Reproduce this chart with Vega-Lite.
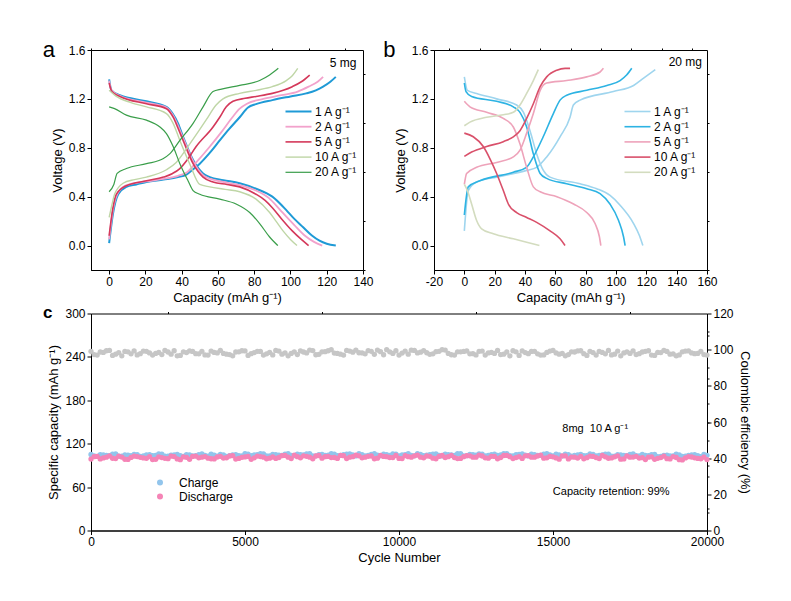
{
"$schema":"https://vega.github.io/schema/vega-lite/v6.json",
"padding":{"left":42,"top":38,"right":5,"bottom":5},
"datasets":{
"a":[
{"r":"1 A g⁻¹","k":"c","x":0,"y":0.02},{"r":"1 A g⁻¹","k":"c","x":2,"y":0.25},{"r":"1 A g⁻¹","k":"c","x":5,"y":0.42},{"r":"1 A g⁻¹","k":"c","x":9.5,"y":0.48},{"r":"1 A g⁻¹","k":"c","x":15,"y":0.5},{"r":"1 A g⁻¹","k":"c","x":20.6,"y":0.52},{"r":"1 A g⁻¹","k":"c","x":30,"y":0.54},{"r":"1 A g⁻¹","k":"c","x":38,"y":0.56},{"r":"1 A g⁻¹","k":"c","x":42.6,"y":0.58},{"r":"1 A g⁻¹","k":"c","x":46,"y":0.62},{"r":"1 A g⁻¹","k":"c","x":50,"y":0.67},{"r":"1 A g⁻¹","k":"c","x":55,"y":0.75},{"r":"1 A g⁻¹","k":"c","x":61,"y":0.86},{"r":"1 A g⁻¹","k":"c","x":66,"y":0.95},{"r":"1 A g⁻¹","k":"c","x":72,"y":1.05},{"r":"1 A g⁻¹","k":"c","x":76.6,"y":1.13},{"r":"1 A g⁻¹","k":"c","x":81,"y":1.157},{"r":"1 A g⁻¹","k":"c","x":90,"y":1.19},{"r":"1 A g⁻¹","k":"c","x":100,"y":1.22},{"r":"1 A g⁻¹","k":"c","x":108.7,"y":1.245},{"r":"1 A g⁻¹","k":"c","x":114,"y":1.27},{"r":"1 A g⁻¹","k":"c","x":118,"y":1.3},{"r":"1 A g⁻¹","k":"c","x":122,"y":1.34},{"r":"1 A g⁻¹","k":"c","x":125,"y":1.38},
{"r":"1 A g⁻¹","k":"d","x":0,"y":1.36},{"r":"1 A g⁻¹","k":"d","x":1.3,"y":1.27},{"r":"1 A g⁻¹","k":"d","x":5.9,"y":1.23},{"r":"1 A g⁻¹","k":"d","x":12,"y":1.205},{"r":"1 A g⁻¹","k":"d","x":20.6,"y":1.18},{"r":"1 A g⁻¹","k":"d","x":31.6,"y":1.135},{"r":"1 A g⁻¹","k":"d","x":35,"y":1.08},{"r":"1 A g⁻¹","k":"d","x":38,"y":1.0},{"r":"1 A g⁻¹","k":"d","x":40.8,"y":0.89},{"r":"1 A g⁻¹","k":"d","x":46.3,"y":0.7},{"r":"1 A g⁻¹","k":"d","x":51.8,"y":0.59},{"r":"1 A g⁻¹","k":"d","x":55.5,"y":0.56},{"r":"1 A g⁻¹","k":"d","x":63,"y":0.535},{"r":"1 A g⁻¹","k":"d","x":72,"y":0.51},{"r":"1 A g⁻¹","k":"d","x":81,"y":0.465},{"r":"1 A g⁻¹","k":"d","x":90,"y":0.4},{"r":"1 A g⁻¹","k":"d","x":97.7,"y":0.29},{"r":"1 A g⁻¹","k":"d","x":102,"y":0.22},{"r":"1 A g⁻¹","k":"d","x":107,"y":0.15},{"r":"1 A g⁻¹","k":"d","x":112,"y":0.08},{"r":"1 A g⁻¹","k":"d","x":116,"y":0.04},{"r":"1 A g⁻¹","k":"d","x":120,"y":0.015},{"r":"1 A g⁻¹","k":"d","x":125,"y":0},
{"r":"2 A g⁻¹","k":"c","x":0,"y":0.05},{"r":"2 A g⁻¹","k":"c","x":2,"y":0.28},{"r":"2 A g⁻¹","k":"c","x":4.5,"y":0.42},{"r":"2 A g⁻¹","k":"c","x":9,"y":0.49},{"r":"2 A g⁻¹","k":"c","x":20.6,"y":0.525},{"r":"2 A g⁻¹","k":"c","x":30,"y":0.545},{"r":"2 A g⁻¹","k":"c","x":38,"y":0.57},{"r":"2 A g⁻¹","k":"c","x":43,"y":0.6},{"r":"2 A g⁻¹","k":"c","x":48,"y":0.68},{"r":"2 A g⁻¹","k":"c","x":55,"y":0.8},{"r":"2 A g⁻¹","k":"c","x":62,"y":0.93},{"r":"2 A g⁻¹","k":"c","x":68,"y":1.05},{"r":"2 A g⁻¹","k":"c","x":72,"y":1.12},{"r":"2 A g⁻¹","k":"c","x":76,"y":1.16},{"r":"2 A g⁻¹","k":"c","x":85,"y":1.2},{"r":"2 A g⁻¹","k":"c","x":95,"y":1.23},{"r":"2 A g⁻¹","k":"c","x":104,"y":1.26},{"r":"2 A g⁻¹","k":"c","x":110,"y":1.3},{"r":"2 A g⁻¹","k":"c","x":115,"y":1.34},{"r":"2 A g⁻¹","k":"c","x":118,"y":1.38},
{"r":"2 A g⁻¹","k":"d","x":0,"y":1.35},{"r":"2 A g⁻¹","k":"d","x":1.3,"y":1.27},{"r":"2 A g⁻¹","k":"d","x":5.9,"y":1.225},{"r":"2 A g⁻¹","k":"d","x":20.6,"y":1.17},{"r":"2 A g⁻¹","k":"d","x":31.6,"y":1.13},{"r":"2 A g⁻¹","k":"d","x":35,"y":1.07},{"r":"2 A g⁻¹","k":"d","x":40.8,"y":0.88},{"r":"2 A g⁻¹","k":"d","x":46.3,"y":0.69},{"r":"2 A g⁻¹","k":"d","x":51.8,"y":0.575},{"r":"2 A g⁻¹","k":"d","x":56,"y":0.545},{"r":"2 A g⁻¹","k":"d","x":65,"y":0.515},{"r":"2 A g⁻¹","k":"d","x":72,"y":0.495},{"r":"2 A g⁻¹","k":"d","x":81,"y":0.45},{"r":"2 A g⁻¹","k":"d","x":88,"y":0.39},{"r":"2 A g⁻¹","k":"d","x":95,"y":0.28},{"r":"2 A g⁻¹","k":"d","x":102,"y":0.17},{"r":"2 A g⁻¹","k":"d","x":108,"y":0.08},{"r":"2 A g⁻¹","k":"d","x":113,"y":0.03},{"r":"2 A g⁻¹","k":"d","x":117.5,"y":0},
{"r":"5 A g⁻¹","k":"c","x":0,"y":0.08},{"r":"5 A g⁻¹","k":"c","x":2,"y":0.3},{"r":"5 A g⁻¹","k":"c","x":4,"y":0.42},{"r":"5 A g⁻¹","k":"c","x":9.5,"y":0.49},{"r":"5 A g⁻¹","k":"c","x":20.6,"y":0.53},{"r":"5 A g⁻¹","k":"c","x":30,"y":0.56},{"r":"5 A g⁻¹","k":"c","x":35,"y":0.59},{"r":"5 A g⁻¹","k":"c","x":39,"y":0.63},{"r":"5 A g⁻¹","k":"c","x":43,"y":0.7},{"r":"5 A g⁻¹","k":"c","x":48,"y":0.81},{"r":"5 A g⁻¹","k":"c","x":57.3,"y":0.97},{"r":"5 A g⁻¹","k":"c","x":61,"y":1.05},{"r":"5 A g⁻¹","k":"c","x":64.6,"y":1.135},{"r":"5 A g⁻¹","k":"c","x":68.3,"y":1.18},{"r":"5 A g⁻¹","k":"c","x":75,"y":1.205},{"r":"5 A g⁻¹","k":"c","x":81,"y":1.22},{"r":"5 A g⁻¹","k":"c","x":90,"y":1.245},{"r":"5 A g⁻¹","k":"c","x":96,"y":1.27},{"r":"5 A g⁻¹","k":"c","x":101,"y":1.3},{"r":"5 A g⁻¹","k":"c","x":106,"y":1.34},{"r":"5 A g⁻¹","k":"c","x":110.6,"y":1.395},
{"r":"5 A g⁻¹","k":"d","x":0,"y":1.33},{"r":"5 A g⁻¹","k":"d","x":1.5,"y":1.26},{"r":"5 A g⁻¹","k":"d","x":5.9,"y":1.22},{"r":"5 A g⁻¹","k":"d","x":20.6,"y":1.16},{"r":"5 A g⁻¹","k":"d","x":31.6,"y":1.12},{"r":"5 A g⁻¹","k":"d","x":35.3,"y":1.05},{"r":"5 A g⁻¹","k":"d","x":38,"y":0.96},{"r":"5 A g⁻¹","k":"d","x":40.8,"y":0.86},{"r":"5 A g⁻¹","k":"d","x":46.3,"y":0.67},{"r":"5 A g⁻¹","k":"d","x":51.8,"y":0.56},{"r":"5 A g⁻¹","k":"d","x":57.3,"y":0.52},{"r":"5 A g⁻¹","k":"d","x":65,"y":0.5},{"r":"5 A g⁻¹","k":"d","x":72,"y":0.48},{"r":"5 A g⁻¹","k":"d","x":81,"y":0.42},{"r":"5 A g⁻¹","k":"d","x":86,"y":0.37},{"r":"5 A g⁻¹","k":"d","x":90,"y":0.31},{"r":"5 A g⁻¹","k":"d","x":95,"y":0.22},{"r":"5 A g⁻¹","k":"d","x":101,"y":0.12},{"r":"5 A g⁻¹","k":"d","x":106,"y":0.05},{"r":"5 A g⁻¹","k":"d","x":110,"y":0},
{"r":"10 A g⁻¹","k":"c","x":0,"y":0.23},{"r":"10 A g⁻¹","k":"c","x":1.5,"y":0.33},{"r":"10 A g⁻¹","k":"c","x":3,"y":0.42},{"r":"10 A g⁻¹","k":"c","x":7.7,"y":0.51},{"r":"10 A g⁻¹","k":"c","x":14,"y":0.54},{"r":"10 A g⁻¹","k":"c","x":20.6,"y":0.56},{"r":"10 A g⁻¹","k":"c","x":31.6,"y":0.62},{"r":"10 A g⁻¹","k":"c","x":37,"y":0.68},{"r":"10 A g⁻¹","k":"c","x":44.4,"y":0.83},{"r":"10 A g⁻¹","k":"c","x":50,"y":0.95},{"r":"10 A g⁻¹","k":"c","x":53.6,"y":1.03},{"r":"10 A g⁻¹","k":"c","x":59,"y":1.15},{"r":"10 A g⁻¹","k":"c","x":62.8,"y":1.2},{"r":"10 A g⁻¹","k":"c","x":72,"y":1.245},{"r":"10 A g⁻¹","k":"c","x":81,"y":1.27},{"r":"10 A g⁻¹","k":"c","x":90,"y":1.3},{"r":"10 A g⁻¹","k":"c","x":97.7,"y":1.35},{"r":"10 A g⁻¹","k":"c","x":101,"y":1.39},{"r":"10 A g⁻¹","k":"c","x":104,"y":1.45},
{"r":"10 A g⁻¹","k":"d","x":0,"y":1.27},{"r":"10 A g⁻¹","k":"d","x":4,"y":1.22},{"r":"10 A g⁻¹","k":"d","x":12,"y":1.17},{"r":"10 A g⁻¹","k":"d","x":20.6,"y":1.135},{"r":"10 A g⁻¹","k":"d","x":31.6,"y":1.08},{"r":"10 A g⁻¹","k":"d","x":35.3,"y":1.0},{"r":"10 A g⁻¹","k":"d","x":39,"y":0.86},{"r":"10 A g⁻¹","k":"d","x":44.4,"y":0.67},{"r":"10 A g⁻¹","k":"d","x":50,"y":0.5},{"r":"10 A g⁻¹","k":"d","x":55.5,"y":0.48},{"r":"10 A g⁻¹","k":"d","x":64,"y":0.46},{"r":"10 A g⁻¹","k":"d","x":72,"y":0.44},{"r":"10 A g⁻¹","k":"d","x":81,"y":0.38},{"r":"10 A g⁻¹","k":"d","x":88.5,"y":0.27},{"r":"10 A g⁻¹","k":"d","x":92,"y":0.2},{"r":"10 A g⁻¹","k":"d","x":95.9,"y":0.12},{"r":"10 A g⁻¹","k":"d","x":100,"y":0.05},{"r":"10 A g⁻¹","k":"d","x":103.6,"y":0},
{"r":"20 A g⁻¹","k":"c","x":0,"y":0.44},{"r":"20 A g⁻¹","k":"c","x":2.6,"y":0.5},{"r":"20 A g⁻¹","k":"c","x":4.4,"y":0.59},{"r":"20 A g⁻¹","k":"c","x":9.5,"y":0.63},{"r":"20 A g⁻¹","k":"c","x":20.6,"y":0.67},{"r":"20 A g⁻¹","k":"c","x":29.7,"y":0.71},{"r":"20 A g⁻¹","k":"c","x":33.4,"y":0.75},{"r":"20 A g⁻¹","k":"c","x":39,"y":0.86},{"r":"20 A g⁻¹","k":"c","x":46.3,"y":1.0},{"r":"20 A g⁻¹","k":"c","x":51.8,"y":1.135},{"r":"20 A g⁻¹","k":"c","x":57.3,"y":1.26},{"r":"20 A g⁻¹","k":"c","x":62,"y":1.28},{"r":"20 A g⁻¹","k":"c","x":72,"y":1.31},{"r":"20 A g⁻¹","k":"c","x":83,"y":1.35},{"r":"20 A g⁻¹","k":"c","x":88.5,"y":1.395},{"r":"20 A g⁻¹","k":"c","x":93.3,"y":1.45},
{"r":"20 A g⁻¹","k":"d","x":0,"y":1.135},{"r":"20 A g⁻¹","k":"d","x":3,"y":1.12},{"r":"20 A g⁻¹","k":"d","x":9.5,"y":1.067},{"r":"20 A g⁻¹","k":"d","x":20.6,"y":1.026},{"r":"20 A g⁻¹","k":"d","x":28,"y":0.97},{"r":"20 A g⁻¹","k":"d","x":31.6,"y":0.916},{"r":"20 A g⁻¹","k":"d","x":35.3,"y":0.81},{"r":"20 A g⁻¹","k":"d","x":39,"y":0.67},{"r":"20 A g⁻¹","k":"d","x":43.5,"y":0.53},{"r":"20 A g⁻¹","k":"d","x":46.3,"y":0.45},{"r":"20 A g⁻¹","k":"d","x":50,"y":0.42},{"r":"20 A g⁻¹","k":"d","x":61,"y":0.38},{"r":"20 A g⁻¹","k":"d","x":70,"y":0.34},{"r":"20 A g⁻¹","k":"d","x":77.5,"y":0.27},{"r":"20 A g⁻¹","k":"d","x":83,"y":0.18},{"r":"20 A g⁻¹","k":"d","x":88.5,"y":0.07},{"r":"20 A g⁻¹","k":"d","x":93,"y":0}
],
"b":[
{"r":"1 A g⁻¹","k":"c","x":0,"y":0.12},{"r":"1 A g⁻¹","k":"c","x":2.6,"y":0.45},{"r":"1 A g⁻¹","k":"c","x":8.1,"y":0.52},{"r":"1 A g⁻¹","k":"c","x":21.3,"y":0.56},{"r":"1 A g⁻¹","k":"c","x":41.1,"y":0.615},{"r":"1 A g⁻¹","k":"c","x":47.7,"y":0.64},{"r":"1 A g⁻¹","k":"c","x":54.3,"y":0.725},{"r":"1 A g⁻¹","k":"c","x":63.1,"y":0.89},{"r":"1 A g⁻¹","k":"c","x":69.7,"y":1.05},{"r":"1 A g⁻¹","k":"c","x":71.9,"y":1.15},{"r":"1 A g⁻¹","k":"c","x":76.3,"y":1.19},{"r":"1 A g⁻¹","k":"c","x":98.3,"y":1.26},{"r":"1 A g⁻¹","k":"c","x":111.6,"y":1.31},{"r":"1 A g⁻¹","k":"c","x":118.2,"y":1.37},{"r":"1 A g⁻¹","k":"c","x":125.9,"y":1.44},
{"r":"1 A g⁻¹","k":"d","x":0,"y":1.38},{"r":"1 A g⁻¹","k":"d","x":2,"y":1.27},{"r":"1 A g⁻¹","k":"d","x":8.1,"y":1.245},{"r":"1 A g⁻¹","k":"d","x":21.3,"y":1.2},{"r":"1 A g⁻¹","k":"d","x":34.5,"y":1.15},{"r":"1 A g⁻¹","k":"d","x":39,"y":1.09},{"r":"1 A g⁻¹","k":"d","x":43.3,"y":0.94},{"r":"1 A g⁻¹","k":"d","x":47.7,"y":0.75},{"r":"1 A g⁻¹","k":"d","x":52.1,"y":0.615},{"r":"1 A g⁻¹","k":"d","x":56.5,"y":0.56},{"r":"1 A g⁻¹","k":"d","x":76.3,"y":0.506},{"r":"1 A g⁻¹","k":"d","x":87.3,"y":0.465},{"r":"1 A g⁻¹","k":"d","x":96.1,"y":0.41},{"r":"1 A g⁻¹","k":"d","x":102.7,"y":0.33},{"r":"1 A g⁻¹","k":"d","x":111.6,"y":0.18},{"r":"1 A g⁻¹","k":"d","x":115.5,"y":0.08},{"r":"1 A g⁻¹","k":"d","x":117.7,"y":0},
{"r":"2 A g⁻¹","k":"c","x":0,"y":0.25},{"r":"2 A g⁻¹","k":"c","x":2.6,"y":0.48},{"r":"2 A g⁻¹","k":"c","x":10.3,"y":0.53},{"r":"2 A g⁻¹","k":"c","x":32.3,"y":0.6},{"r":"2 A g⁻¹","k":"c","x":41,"y":0.64},{"r":"2 A g⁻¹","k":"c","x":45.5,"y":0.725},{"r":"2 A g⁻¹","k":"c","x":52,"y":0.89},{"r":"2 A g⁻¹","k":"c","x":58.7,"y":1.08},{"r":"2 A g⁻¹","k":"c","x":63.1,"y":1.19},{"r":"2 A g⁻¹","k":"c","x":67.5,"y":1.23},{"r":"2 A g⁻¹","k":"c","x":80.7,"y":1.27},{"r":"2 A g⁻¹","k":"c","x":94,"y":1.31},{"r":"2 A g⁻¹","k":"c","x":102.7,"y":1.35},{"r":"2 A g⁻¹","k":"c","x":107,"y":1.395},{"r":"2 A g⁻¹","k":"c","x":110.4,"y":1.45},
{"r":"2 A g⁻¹","k":"d","x":0,"y":1.33},{"r":"2 A g⁻¹","k":"d","x":1.1,"y":1.26},{"r":"2 A g⁻¹","k":"d","x":4.8,"y":1.22},{"r":"2 A g⁻¹","k":"d","x":21.3,"y":1.18},{"r":"2 A g⁻¹","k":"d","x":32.3,"y":1.135},{"r":"2 A g⁻¹","k":"d","x":36.7,"y":1.09},{"r":"2 A g⁻¹","k":"d","x":41.1,"y":0.97},{"r":"2 A g⁻¹","k":"d","x":45.5,"y":0.75},{"r":"2 A g⁻¹","k":"d","x":50,"y":0.59},{"r":"2 A g⁻¹","k":"d","x":54.3,"y":0.55},{"r":"2 A g⁻¹","k":"d","x":67.5,"y":0.506},{"r":"2 A g⁻¹","k":"d","x":80.7,"y":0.465},{"r":"2 A g⁻¹","k":"d","x":89.5,"y":0.424},{"r":"2 A g⁻¹","k":"d","x":96,"y":0.34},{"r":"2 A g⁻¹","k":"d","x":101.7,"y":0.205},{"r":"2 A g⁻¹","k":"d","x":105,"y":0.07},{"r":"2 A g⁻¹","k":"d","x":106,"y":0},
{"r":"5 A g⁻¹","k":"c","x":0,"y":0.5},{"r":"5 A g⁻¹","k":"c","x":1.5,"y":0.59},{"r":"5 A g⁻¹","k":"c","x":8.1,"y":0.64},{"r":"5 A g⁻¹","k":"c","x":21.3,"y":0.68},{"r":"5 A g⁻¹","k":"c","x":32.3,"y":0.725},{"r":"5 A g⁻¹","k":"c","x":36.7,"y":0.78},{"r":"5 A g⁻¹","k":"c","x":41.1,"y":0.92},{"r":"5 A g⁻¹","k":"c","x":45.5,"y":1.08},{"r":"5 A g⁻¹","k":"c","x":50,"y":1.27},{"r":"5 A g⁻¹","k":"c","x":54.3,"y":1.33},{"r":"5 A g⁻¹","k":"c","x":67.5,"y":1.35},{"r":"5 A g⁻¹","k":"c","x":80.7,"y":1.38},{"r":"5 A g⁻¹","k":"c","x":89.5,"y":1.42},{"r":"5 A g⁻¹","k":"c","x":91.7,"y":1.45},
{"r":"5 A g⁻¹","k":"d","x":0,"y":1.18},{"r":"5 A g⁻¹","k":"d","x":3.7,"y":1.135},{"r":"5 A g⁻¹","k":"d","x":14.7,"y":1.09},{"r":"5 A g⁻¹","k":"d","x":25.7,"y":1.04},{"r":"5 A g⁻¹","k":"d","x":32.3,"y":0.97},{"r":"5 A g⁻¹","k":"d","x":36.7,"y":0.83},{"r":"5 A g⁻¹","k":"d","x":41.1,"y":0.64},{"r":"5 A g⁻¹","k":"d","x":45.5,"y":0.48},{"r":"5 A g⁻¹","k":"d","x":50,"y":0.44},{"r":"5 A g⁻¹","k":"d","x":61,"y":0.4},{"r":"5 A g⁻¹","k":"d","x":72,"y":0.34},{"r":"5 A g⁻¹","k":"d","x":80.7,"y":0.27},{"r":"5 A g⁻¹","k":"d","x":86.2,"y":0.18},{"r":"5 A g⁻¹","k":"d","x":89.1,"y":0.07},{"r":"5 A g⁻¹","k":"d","x":90,"y":0},
{"r":"10 A g⁻¹","k":"c","x":0,"y":0.73},{"r":"10 A g⁻¹","k":"c","x":4.8,"y":0.765},{"r":"10 A g⁻¹","k":"c","x":14.7,"y":0.81},{"r":"10 A g⁻¹","k":"c","x":25.7,"y":0.85},{"r":"10 A g⁻¹","k":"c","x":32.3,"y":0.89},{"r":"10 A g⁻¹","k":"c","x":36.7,"y":0.94},{"r":"10 A g⁻¹","k":"c","x":41.1,"y":1.04},{"r":"10 A g⁻¹","k":"c","x":45.5,"y":1.16},{"r":"10 A g⁻¹","k":"c","x":50,"y":1.3},{"r":"10 A g⁻¹","k":"c","x":54.3,"y":1.38},{"r":"10 A g⁻¹","k":"c","x":61,"y":1.435},{"r":"10 A g⁻¹","k":"c","x":66.4,"y":1.45},{"r":"10 A g⁻¹","k":"c","x":69.7,"y":1.45},
{"r":"10 A g⁻¹","k":"d","x":0,"y":0.92},{"r":"10 A g⁻¹","k":"d","x":5.9,"y":0.89},{"r":"10 A g⁻¹","k":"d","x":12.5,"y":0.81},{"r":"10 A g⁻¹","k":"d","x":16.9,"y":0.71},{"r":"10 A g⁻¹","k":"d","x":21.3,"y":0.59},{"r":"10 A g⁻¹","k":"d","x":25.7,"y":0.45},{"r":"10 A g⁻¹","k":"d","x":29,"y":0.34},{"r":"10 A g⁻¹","k":"d","x":34.5,"y":0.27},{"r":"10 A g⁻¹","k":"d","x":41.1,"y":0.23},{"r":"10 A g⁻¹","k":"d","x":47.7,"y":0.19},{"r":"10 A g⁻¹","k":"d","x":56.5,"y":0.12},{"r":"10 A g⁻¹","k":"d","x":63.1,"y":0.055},{"r":"10 A g⁻¹","k":"d","x":66.4,"y":0},
{"r":"20 A g⁻¹","k":"c","x":0,"y":0.98},{"r":"20 A g⁻¹","k":"c","x":3.7,"y":1.01},{"r":"20 A g⁻¹","k":"c","x":14.7,"y":1.05},{"r":"20 A g⁻¹","k":"c","x":25.7,"y":1.07},{"r":"20 A g⁻¹","k":"c","x":32.3,"y":1.09},{"r":"20 A g⁻¹","k":"c","x":36.7,"y":1.15},{"r":"20 A g⁻¹","k":"c","x":41.1,"y":1.245},{"r":"20 A g⁻¹","k":"c","x":45.5,"y":1.35},{"r":"20 A g⁻¹","k":"c","x":48.8,"y":1.44},
{"r":"20 A g⁻¹","k":"d","x":0,"y":0.5},{"r":"20 A g⁻¹","k":"d","x":2,"y":0.45},{"r":"20 A g⁻¹","k":"d","x":4.8,"y":0.34},{"r":"20 A g⁻¹","k":"d","x":8.1,"y":0.205},{"r":"20 A g⁻¹","k":"d","x":11.4,"y":0.137},{"r":"20 A g⁻¹","k":"d","x":19.1,"y":0.096},{"r":"20 A g⁻¹","k":"d","x":32.3,"y":0.055},{"r":"20 A g⁻¹","k":"d","x":41.1,"y":0.027},{"r":"20 A g⁻¹","k":"d","x":49.5,"y":0}
],
"c":[
{"n":0,"c":105.2,"d":98.7,"e":99.1},{"n":200,"c":102.5,"d":102.4,"e":97.0},{"n":400,"c":104.4,"d":100.4,"e":98.5},{"n":600,"c":103.4,"d":103.3,"e":99.6},{"n":800,"c":105.8,"d":99.5,"e":97.5},{"n":1000,"c":102.9,"d":101.5,"e":96.6},{"n":1200,"c":104.2,"d":98.2,"e":98.8},{"n":1400,"c":105.2,"d":102.7,"e":99.3},{"n":1600,"c":102.5,"d":101.1,"e":97.8},{"n":1800,"c":104.4,"d":99.8,"e":99.1},
{"n":2000,"c":103.4,"d":98.1,"e":97.0},{"n":2200,"c":105.8,"d":101.8,"e":98.5},{"n":2400,"c":102.9,"d":99.8,"e":99.6},{"n":2600,"c":104.2,"d":102.7,"e":97.5},{"n":2800,"c":105.2,"d":98.9,"e":96.6},{"n":3000,"c":102.5,"d":101.7,"e":98.8},{"n":3200,"c":104.4,"d":98.4,"e":99.3},{"n":3400,"c":103.4,"d":102.9,"e":97.8},{"n":3600,"c":105.8,"d":101.3,"e":99.1},{"n":3800,"c":102.9,"d":100.0,"e":97.0},
{"n":4000,"c":104.2,"d":98.9,"e":98.5},{"n":4200,"c":105.2,"d":102.6,"e":99.6},{"n":4400,"c":102.5,"d":100.6,"e":97.5},{"n":4600,"c":104.4,"d":103.5,"e":96.6},{"n":4800,"c":103.4,"d":99.7,"e":98.8},{"n":5000,"c":106.4,"d":101.7,"e":99.3},{"n":5200,"c":103.5,"d":98.4,"e":97.8},{"n":5400,"c":104.8,"d":102.9,"e":99.1},{"n":5600,"c":105.8,"d":101.3,"e":97.0},{"n":5800,"c":103.1,"d":100.0,"e":98.5},
{"n":6000,"c":105.0,"d":99.7,"e":99.6},{"n":6200,"c":104.0,"d":103.4,"e":97.5},{"n":6400,"c":106.4,"d":101.4,"e":96.6},{"n":6600,"c":103.5,"d":104.3,"e":98.8},{"n":6800,"c":104.8,"d":100.5,"e":99.3},{"n":7000,"c":105.8,"d":102.5,"e":98.2},{"n":7200,"c":103.1,"d":99.2,"e":99.5},{"n":7400,"c":105.0,"d":103.7,"e":97.4},{"n":7600,"c":104.0,"d":102.1,"e":98.9},{"n":7800,"c":106.4,"d":100.8,"e":100.0},
{"n":8000,"c":103.5,"d":99.7,"e":97.9},{"n":8200,"c":104.8,"d":103.4,"e":97.0},{"n":8400,"c":105.8,"d":101.4,"e":99.2},{"n":8600,"c":103.1,"d":104.3,"e":99.7},{"n":8800,"c":105.0,"d":100.5,"e":98.2},{"n":9000,"c":104.0,"d":102.5,"e":99.5},{"n":9200,"c":106.4,"d":99.2,"e":97.4},{"n":9400,"c":103.5,"d":103.7,"e":98.9},{"n":9600,"c":104.8,"d":102.1,"e":100.0},{"n":9800,"c":105.8,"d":100.8,"e":97.9},
{"n":10000,"c":103.1,"d":99.7,"e":97.0},{"n":10200,"c":105.0,"d":103.4,"e":99.2},{"n":10400,"c":104.0,"d":101.4,"e":99.7},{"n":10600,"c":106.4,"d":104.3,"e":98.2},{"n":10800,"c":103.5,"d":100.5,"e":99.5},{"n":11000,"c":104.8,"d":102.5,"e":97.4},{"n":11200,"c":105.8,"d":99.2,"e":98.9},{"n":11400,"c":103.1,"d":103.7,"e":100.0},{"n":11600,"c":105.0,"d":102.1,"e":97.9},{"n":11800,"c":104.0,"d":100.8,"e":97.0},
{"n":12000,"c":106.4,"d":99.7,"e":98.8},{"n":12200,"c":103.5,"d":103.4,"e":99.3},{"n":12400,"c":104.8,"d":101.4,"e":97.8},{"n":12600,"c":105.8,"d":104.3,"e":99.1},{"n":12800,"c":103.1,"d":100.5,"e":97.0},{"n":13000,"c":105.0,"d":102.5,"e":98.5},{"n":13200,"c":104.0,"d":99.2,"e":99.6},{"n":13400,"c":106.4,"d":103.7,"e":97.5},{"n":13600,"c":103.5,"d":102.1,"e":96.6},{"n":13800,"c":104.8,"d":100.8,"e":98.8},
{"n":14000,"c":105.8,"d":99.7,"e":99.3},{"n":14200,"c":103.1,"d":103.4,"e":97.8},{"n":14400,"c":105.0,"d":101.4,"e":99.1},{"n":14600,"c":104.0,"d":104.3,"e":97.0},{"n":14800,"c":106.4,"d":100.5,"e":98.5},{"n":15000,"c":103.1,"d":101.9,"e":99.6},{"n":15200,"c":104.4,"d":98.6,"e":97.5},{"n":15400,"c":105.4,"d":103.1,"e":96.6},{"n":15600,"c":102.7,"d":101.5,"e":98.8},{"n":15800,"c":104.6,"d":100.2,"e":99.3},
{"n":16000,"c":103.6,"d":99.1,"e":97.8},{"n":16200,"c":106.0,"d":102.8,"e":99.1},{"n":16400,"c":103.1,"d":100.8,"e":97.0},{"n":16600,"c":104.4,"d":103.7,"e":98.5},{"n":16800,"c":105.4,"d":99.9,"e":99.6},{"n":17000,"c":102.7,"d":101.9,"e":97.5},{"n":17200,"c":104.6,"d":98.6,"e":96.6},{"n":17400,"c":103.6,"d":103.1,"e":98.8},{"n":17600,"c":106.0,"d":101.5,"e":99.3},{"n":17800,"c":103.1,"d":100.2,"e":97.8},
{"n":18000,"c":103.8,"d":98.1,"e":99.1},{"n":18200,"c":104.8,"d":101.8,"e":97.0},{"n":18400,"c":102.1,"d":99.8,"e":98.5},{"n":18600,"c":104.0,"d":102.7,"e":99.6},{"n":18800,"c":103.0,"d":98.9,"e":97.5},{"n":19000,"c":105.4,"d":100.9,"e":96.6},{"n":19200,"c":102.5,"d":97.6,"e":98.8},{"n":19400,"c":103.8,"d":102.1,"e":99.3},{"n":19600,"c":104.8,"d":100.5,"e":97.8},{"n":19800,"c":102.1,"d":99.2,"e":99.1},
{"n":20000,"c":104.0,"d":98.1,"e":97.0},
{"n":100,"c":103.2,"d":102.0,"e":97.3},{"n":300,"c":104.9,"d":99.0,"e":98.7},{"n":500,"c":103.8,"d":101.4,"e":99.4},{"n":700,"c":105.5,"d":99.9,"e":96.8},{"n":900,"c":102.7,"d":102.8,"e":98.4},{"n":1100,"c":104.5,"d":98.5,"e":99.0},{"n":1300,"c":103.6,"d":101.0,"e":97.7},{"n":1500,"c":105.0,"d":102.2,"e":97.1},{"n":1700,"c":103.2,"d":100.3,"e":99.2},{"n":1900,"c":104.9,"d":102.0,"e":98.2},
{"n":2100,"c":103.8,"d":98.4,"e":97.9},{"n":2300,"c":105.5,"d":100.8,"e":97.3},{"n":2500,"c":102.7,"d":99.3,"e":98.7},{"n":2700,"c":104.5,"d":102.2,"e":99.4},{"n":2900,"c":103.6,"d":97.9,"e":96.8},{"n":3100,"c":105.0,"d":101.2,"e":98.4},{"n":3300,"c":103.2,"d":102.4,"e":99.0},{"n":3500,"c":104.9,"d":100.5,"e":97.7},{"n":3700,"c":103.8,"d":102.2,"e":97.1},{"n":3900,"c":105.5,"d":99.2,"e":99.2},
{"n":4100,"c":102.7,"d":101.6,"e":98.2},{"n":4300,"c":104.5,"d":100.1,"e":97.9},{"n":4500,"c":103.6,"d":103.0,"e":97.3},{"n":4700,"c":105.0,"d":98.7,"e":98.7},{"n":4900,"c":103.2,"d":101.2,"e":99.4},{"n":5100,"c":105.5,"d":102.4,"e":96.8},{"n":5300,"c":104.4,"d":100.5,"e":98.4},{"n":5500,"c":106.1,"d":102.2,"e":99.0},{"n":5700,"c":103.3,"d":99.2,"e":97.7},{"n":5900,"c":105.1,"d":101.6,"e":97.1},
{"n":6100,"c":104.2,"d":100.9,"e":99.2},{"n":6300,"c":105.6,"d":103.8,"e":98.2},{"n":6500,"c":103.8,"d":99.5,"e":97.9},{"n":6700,"c":105.5,"d":102.0,"e":97.3},{"n":6900,"c":104.4,"d":103.2,"e":98.7},{"n":7100,"c":106.1,"d":101.3,"e":99.8},{"n":7300,"c":103.3,"d":103.0,"e":97.2},{"n":7500,"c":105.1,"d":100.0,"e":98.8},{"n":7700,"c":104.2,"d":102.4,"e":99.4},{"n":7900,"c":105.6,"d":100.9,"e":98.1},
{"n":8100,"c":103.8,"d":103.8,"e":97.5},{"n":8300,"c":105.5,"d":99.5,"e":99.6},{"n":8500,"c":104.4,"d":102.0,"e":98.6},{"n":8700,"c":106.1,"d":103.2,"e":98.3},{"n":8900,"c":103.3,"d":101.3,"e":97.7},{"n":9100,"c":105.1,"d":103.0,"e":99.1},{"n":9300,"c":104.2,"d":100.0,"e":99.8},{"n":9500,"c":105.6,"d":102.4,"e":97.2},{"n":9700,"c":103.8,"d":100.9,"e":98.8},{"n":9900,"c":105.5,"d":103.8,"e":99.4},
{"n":10100,"c":104.4,"d":99.5,"e":98.1},{"n":10300,"c":106.1,"d":102.0,"e":97.5},{"n":10500,"c":103.3,"d":103.2,"e":99.6},{"n":10700,"c":105.1,"d":101.3,"e":98.6},{"n":10900,"c":104.2,"d":103.0,"e":98.3},{"n":11100,"c":105.6,"d":100.0,"e":97.7},{"n":11300,"c":103.8,"d":102.4,"e":99.1},{"n":11500,"c":105.5,"d":100.9,"e":99.8},{"n":11700,"c":104.4,"d":103.8,"e":97.2},{"n":11900,"c":106.1,"d":99.5,"e":98.8},
{"n":12100,"c":103.3,"d":102.0,"e":99.0},{"n":12300,"c":105.1,"d":103.2,"e":97.7},{"n":12500,"c":104.2,"d":101.3,"e":97.1},{"n":12700,"c":105.6,"d":103.0,"e":99.2},{"n":12900,"c":103.8,"d":100.0,"e":98.2},{"n":13100,"c":105.5,"d":102.4,"e":97.9},{"n":13300,"c":104.4,"d":100.9,"e":97.3},{"n":13500,"c":106.1,"d":103.8,"e":98.7},{"n":13700,"c":103.3,"d":99.5,"e":99.4},{"n":13900,"c":105.1,"d":102.0,"e":96.8},
{"n":14100,"c":104.2,"d":103.2,"e":98.4},{"n":14300,"c":105.6,"d":101.3,"e":99.0},{"n":14500,"c":103.8,"d":103.0,"e":97.7},{"n":14700,"c":105.5,"d":100.0,"e":97.1},{"n":14900,"c":104.4,"d":102.4,"e":99.2},{"n":15100,"c":105.7,"d":100.3,"e":98.2},{"n":15300,"c":102.9,"d":103.2,"e":97.9},{"n":15500,"c":104.7,"d":98.9,"e":97.3},{"n":15700,"c":103.8,"d":101.4,"e":98.7},{"n":15900,"c":105.2,"d":102.6,"e":99.4},
{"n":16100,"c":103.4,"d":100.7,"e":96.8},{"n":16300,"c":105.1,"d":102.4,"e":98.4},{"n":16500,"c":104.0,"d":99.4,"e":99.0},{"n":16700,"c":105.7,"d":101.8,"e":97.7},{"n":16900,"c":102.9,"d":100.3,"e":97.1},{"n":17100,"c":104.7,"d":103.2,"e":99.2},{"n":17300,"c":103.8,"d":98.9,"e":98.2},{"n":17500,"c":105.2,"d":101.4,"e":97.9},{"n":17700,"c":103.4,"d":102.6,"e":97.3},{"n":17900,"c":105.1,"d":100.7,"e":98.7},
{"n":18100,"c":103.4,"d":101.4,"e":99.4},{"n":18300,"c":105.1,"d":98.4,"e":96.8},{"n":18500,"c":102.3,"d":100.8,"e":98.4},{"n":18700,"c":104.1,"d":99.3,"e":99.0},{"n":18900,"c":103.2,"d":102.2,"e":97.7},{"n":19100,"c":104.6,"d":97.9,"e":97.1},{"n":19300,"c":102.8,"d":100.4,"e":99.2},{"n":19500,"c":104.5,"d":101.6,"e":98.2},{"n":19700,"c":103.4,"d":99.7,"e":97.9},{"n":19900,"c":105.1,"d":101.4,"e":97.3}
]
},
"vconcat":[
{"hconcat":[
{"width":272,"height":220,
"layer":[
{"data":{"name":"a"},"mark":{"type":"line","interpolate":"monotone"},
"encoding":{
"x":{"field":"x","type":"quantitative","scale":{"domain":[-10,140],"nice":false,"zero":false},"axis":{"values":[0,20,40,60,80,100,120,140],"title":"Capacity (mAh g⁻¹)"}},
"y":{"field":"y","type":"quantitative","scale":{"domain":[-0.2,1.6],"nice":false,"zero":false},"axis":{"values":[0,0.4,0.8,1.2,1.6],"format":".1f","title":"Voltage (V)"}},
"color":{"field":"r","type":"nominal","scale":{"domain":["1 A g⁻¹","2 A g⁻¹","5 A g⁻¹","10 A g⁻¹","20 A g⁻¹"],"range":["#1f9ad6","#f2a2cc","#d4385a","#bfd6a6","#3a9e4a"]},"legend":{"orient":"none","legendX":200,"legendY":54,"title":null,"symbolType":"M-2,0H2","symbolSize":169,"labelOffset":9,"rowPadding":1.2,"padding":0,"labelFontSize":12}},
"strokeWidth":{"field":"r","type":"nominal","scale":{"domain":["1 A g⁻¹","2 A g⁻¹","5 A g⁻¹","10 A g⁻¹","20 A g⁻¹"],"range":[2,1.2,2,1.2,1.8]},"legend":{"orient":"none","legendX":200,"legendY":54,"title":null,"symbolType":"M-2,0H2","symbolSize":169,"labelOffset":9,"rowPadding":1.2,"padding":0,"labelFontSize":12}},
"detail":{"field":"k"}}},
{"data":{"values":[{"t":"5 mg","x":121.7,"y":1.49}]},"mark":{"type":"text","align":"left","baseline":"middle","fontSize":12},
"encoding":{"x":{"field":"x","type":"quantitative","axis":{"values":[-10,10,30,50,70,90,110,130],"labels":false,"domain":false,"title":null,"tickSize":2}},"y":{"field":"y","type":"quantitative","axis":{"values":[-0.2,0.2,0.6,1.0,1.4],"labels":false,"domain":false,"title":null,"tickSize":2}},"text":{"field":"t"}}},
{"data":{"values":[{"t":"a","x":-36.6,"y":1.545}]},"mark":{"type":"text","align":"left","baseline":"alphabetic","fontSize":22},
"encoding":{"x":{"field":"x","type":"quantitative","axis":null},"y":{"field":"y","type":"quantitative","axis":null},"text":{"field":"t"}}}
],
"resolve":{"axis":{"x":"independent","y":"independent"}}},
{"width":273,"height":220,
"layer":[
{"data":{"name":"b"},"mark":{"type":"line","interpolate":"monotone","strokeWidth":1.6},
"encoding":{
"x":{"field":"x","type":"quantitative","scale":{"domain":[-20,160],"nice":false,"zero":false},"axis":{"values":[-20,0,20,40,60,80,100,120,140,160],"labelExpr":"''+datum.value","title":"Capacity (mAh g⁻¹)"}},
"y":{"field":"y","type":"quantitative","scale":{"domain":[-0.2,1.6],"nice":false,"zero":false},"axis":{"values":[0,0.4,0.8,1.2,1.6],"format":".1f","title":"Voltage (V)"}},
"color":{"field":"r","type":"nominal","scale":{"domain":["1 A g⁻¹","2 A g⁻¹","5 A g⁻¹","10 A g⁻¹","20 A g⁻¹"],"range":["#9fd5ee","#2db3e3","#eea3ba","#d9506a","#d3dcbf"]},"legend":{"orient":"none","legendX":196,"legendY":54,"title":null,"symbolType":"M-2,0H2","symbolSize":169,"symbolStrokeWidth":1.6,"labelOffset":9,"rowPadding":1.2,"padding":0,"labelFontSize":12}},
"detail":{"field":"k"}}},
{"data":{"values":[{"t":"20 mg","x":134.7,"y":1.5}]},"mark":{"type":"text","align":"left","baseline":"middle","fontSize":12},
"encoding":{"x":{"field":"x","type":"quantitative","axis":{"values":[-10,10,30,50,70,90,110,130,150],"labels":false,"domain":false,"title":null,"tickSize":2}},"y":{"field":"y","type":"quantitative","axis":{"values":[-0.2,0.2,0.6,1.0,1.4],"labels":false,"domain":false,"title":null,"tickSize":2}},"text":{"field":"t"}}},
{"data":{"values":[{"t":"b","x":-53.5,"y":1.54}]},"mark":{"type":"text","align":"left","baseline":"alphabetic","fontSize":22},
"encoding":{"x":{"field":"x","type":"quantitative","axis":null},"y":{"field":"y","type":"quantitative","axis":null},"text":{"field":"t"}}}
],
"resolve":{"axis":{"x":"independent","y":"independent"}}}
],"spacing":8,"resolve":{"scale":{"color":"independent","strokeWidth":"independent"},"legend":{"color":"independent","strokeWidth":"independent"}}},
{"width":616,"height":217,
"layer":[
{"data":{"name":"c"},"layer":[
{"mark":{"type":"circle","size":28,"opacity":1},
"encoding":{
"x":{"field":"n","type":"quantitative","scale":{"domain":[0,20000],"nice":false},"axis":{"values":[0,5000,10000,15000,20000],"format":"d","title":"Cycle Number"}},
"y":{"field":"c","type":"quantitative","scale":{"domain":[0,300],"nice":false},"axis":{"values":[0,60,120,180,240,300],"title":"Specific capacity (mAh g⁻¹)"}},
"color":{"datum":"Charge","type":"nominal","scale":{"domain":["Charge","Discharge"],"range":["#92c5ec","#f584b6"]},"legend":{"orient":"none","legendX":63,"legendY":163,"title":null,"symbolType":"circle","symbolSize":36,"labelOffset":13,"rowPadding":2,"padding":0,"labelFontSize":12}}}},
{"mark":{"type":"circle","size":28,"opacity":1},
"encoding":{
"x":{"field":"n","type":"quantitative","axis":null},
"y":{"field":"d","type":"quantitative","axis":null},
"color":{"datum":"Discharge","type":"nominal"}}},
{"data":{"values":[{"t":"8mg\u00a0 10 A g⁻¹","x":16370,"y":140.7},{"t":"Capacity retention: 99%","x":16890,"y":53.8}]},"mark":{"type":"text","align":"center","baseline":"middle","fontSize":11},
"encoding":{"x":{"field":"x","type":"quantitative","axis":{"values":[2500,7500,12500,17500],"labels":false,"domain":false,"title":null,"tickSize":2}},"y":{"field":"y","type":"quantitative","axis":{"values":[30,90,150,210,270],"labels":false,"domain":false,"title":null,"tickSize":2}},"text":{"field":"t"}}},
{"data":{"values":[{"t":"c","x":-1557,"y":294}]},"mark":{"type":"text","align":"left","baseline":"alphabetic","fontSize":17,"fontWeight":"bold"},
"encoding":{"x":{"field":"x","type":"quantitative","axis":null},"y":{"field":"y","type":"quantitative","axis":null},"text":{"field":"t"}}}
],
"resolve":{"axis":{"x":"independent","y":"independent"}}},
{"data":{"name":"c"},"layer":[
{"mark":{"type":"circle","size":28,"opacity":1,"color":"#c6c6c6"},
"encoding":{
"x":{"field":"n","type":"quantitative","axis":null},
"y":{"field":"e","type":"quantitative","scale":{"domain":[0,120],"nice":false},"axis":{"orient":"right","values":[0,20,40,60,80,100,120],"title":"Coulombic efficiency (%)"}}}},
{"mark":{"type":"circle","size":28,"opacity":0},
"encoding":{
"x":{"field":"n","type":"quantitative","axis":null},
"y":{"field":"e","type":"quantitative","axis":{"orient":"right","values":[10,30,50,70,90,110],"labels":false,"domain":false,"title":null,"tickSize":2}}}}
],
"resolve":{"axis":{"y":"independent"}}}
],
"resolve":{"scale":{"y":"independent"},"axis":{"x":"independent"}}}
],
"spacing":-2.5,
"resolve":{"scale":{"color":"independent","strokeWidth":"independent"},"legend":{"color":"independent","strokeWidth":"independent"}},
"config":{
"font":"Liberation Sans",
"view":{"stroke":"black","strokeWidth":1},
"axis":{"domainColor":"black","tickColor":"black","labelColor":"black","titleColor":"black","labelFontSize":12,"titleFontSize":13,"titleFontWeight":"normal","grid":false,"tickSize":4,"labelPadding":2,"labelOverlap":false,"labelFlush":false},
"legend":{"labelColor":"black","labelFontSize":12},
"text":{"color":"black"}
}
}
